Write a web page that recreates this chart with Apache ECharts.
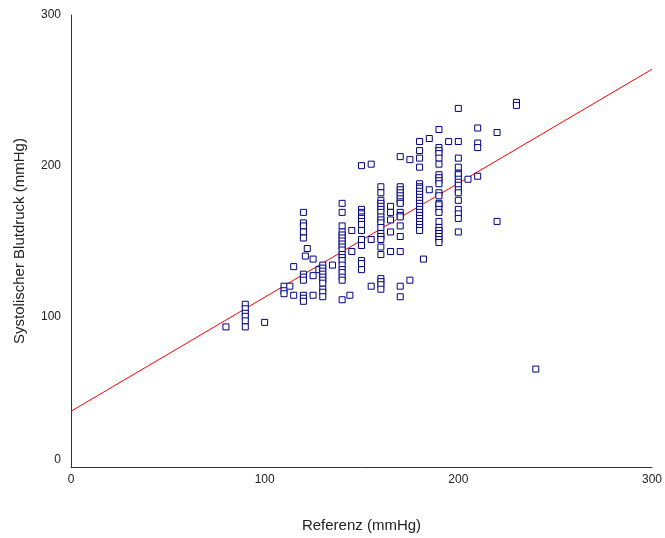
<!DOCTYPE html>
<html>
<head>
<meta charset="utf-8">
<script src="https://cdn.jsdelivr.net/npm/echarts@6/dist/echarts.min.js"></script>
<style>
html,body{margin:0;padding:0;background:#fff;}
#chart{width:665px;height:538px;}
</style>
</head>
<body>
<div id="chart"></div>
<script>
// Reference values (x) and the measured values (y) per reference column
const referenz = [80, 90, 100, 110, 113, 115, 120, 121, 122, 125, 128, 130, 135, 140, 144, 145, 150, 155, 160, 165, 170, 175, 180, 182, 185, 190, 195, 200, 205, 210, 220, 230, 240];
const systolisch = [
  [93],
  [108, 105, 102, 100, 97, 93],
  [96],
  [120, 117, 115],
  [120],
  [133, 114],
  [169, 162, 160, 156, 152, 128, 126, 124, 114, 112, 110],
  [140],
  [145],
  [138, 127, 114],
  [131],
  [134, 132, 130, 128, 126, 124, 122, 118, 116, 113],
  [134],
  [175, 169, 160, 156, 154, 152, 150, 148, 146, 144, 141, 139, 137, 134, 131, 129, 126, 124, 111],
  [114],
  [157, 143],
  [200, 171, 169, 168, 166, 165, 163, 161, 157, 151, 147, 137, 135, 131],
  [201, 151, 120],
  [186, 182, 177, 175, 173, 171, 169, 166, 164, 162, 159, 155, 153, 151, 146, 141, 125, 123, 121, 118],
  [173, 169, 164, 156, 143],
  [206, 186, 184, 182, 180, 178, 176, 175, 169, 167, 166, 160, 153, 143, 120, 113],
  [204, 124],
  [216, 210, 205, 199, 188, 186, 185, 183, 181, 179, 177, 175, 173, 171, 169, 167, 165, 163, 161, 159, 157],
  [138],
  [218, 184],
  [224, 212, 210, 208, 205, 201, 194, 192, 190, 188, 182, 180, 175, 174, 171, 169, 163, 159, 157, 155, 153, 151, 149],
  [216],
  [238, 216, 205, 199, 195, 194, 191, 189, 187, 184, 182, 177, 171, 168, 165, 156],
  [191],
  [225, 215, 212, 193],
  [222, 163],
  [242, 240],
  [65]
];
// Regression line end points
const lineX = [0, 300];
const lineY = [37, 264];
// Axis ticks
const xTicks = [0, 100, 200, 300];
const yTicks = [0, 100, 200, 300];

const points = [];
referenz.forEach((x, i) => systolisch[i].forEach(y => points.push([x, y])));
const linePts = lineX.map((x, i) => [x, lineY[i]]);

const chart = echarts.init(document.getElementById('chart'), null, {renderer: 'canvas'});
const FONT = 'Liberation Sans, Arial, sans-serif';
chart.setOption({
  backgroundColor: '#ffffff',
  animation: false,
  grid: {left: 71, right: 7, top: 15, bottom: 71, containLabel: false},
  xAxis: {
    type: 'value', min: xTicks[0], max: xTicks[xTicks.length - 1], interval: 100,
    name: 'Referenz (mmHg)', nameLocation: 'middle', nameGap: 51,
    nameTextStyle: {color: '#222', fontFamily: FONT, fontSize: 15},
    axisLine: {show: true, lineStyle: {color: '#333', width: 1}},
    axisTick: {show: false},
    splitLine: {show: false},
    axisLabel: {margin: 7, color: '#222', fontFamily: FONT, fontSize: 12}
  },
  yAxis: {
    type: 'value', min: yTicks[0], max: yTicks[yTicks.length - 1], interval: 100,
    name: 'Systolischer Blutdruck (mmHg)', nameLocation: 'middle', nameGap: 44,
    nameTextStyle: {color: '#222', fontFamily: FONT, fontSize: 15},
    axisLine: {show: true, lineStyle: {color: '#333', width: 1}},
    axisTick: {show: false},
    splitLine: {show: false},
    axisLabel: {
      margin: 10, color: '#222', fontFamily: FONT, fontSize: 12,
      formatter: v => v === 0 ? '{z|0}' : String(v),
      rich: {z: {color: '#222', fontFamily: FONT, fontSize: 12, padding: [0, 0, 14, 0]}}
    }
  },
  series: [
    {
      type: 'line', data: linePts, showSymbol: false, symbol: 'none',
      lineStyle: {color: '#ff0000', width: 1}, z: 2, silent: true
    },
    {
      type: 'scatter', data: points, symbol: 'rect', symbolSize: 6,
      itemStyle: {color: '#ffffff', borderColor: '#000080', borderWidth: 1, opacity: 1},
      z: 3
    }
  ]
});
</script>
</body>
</html>
